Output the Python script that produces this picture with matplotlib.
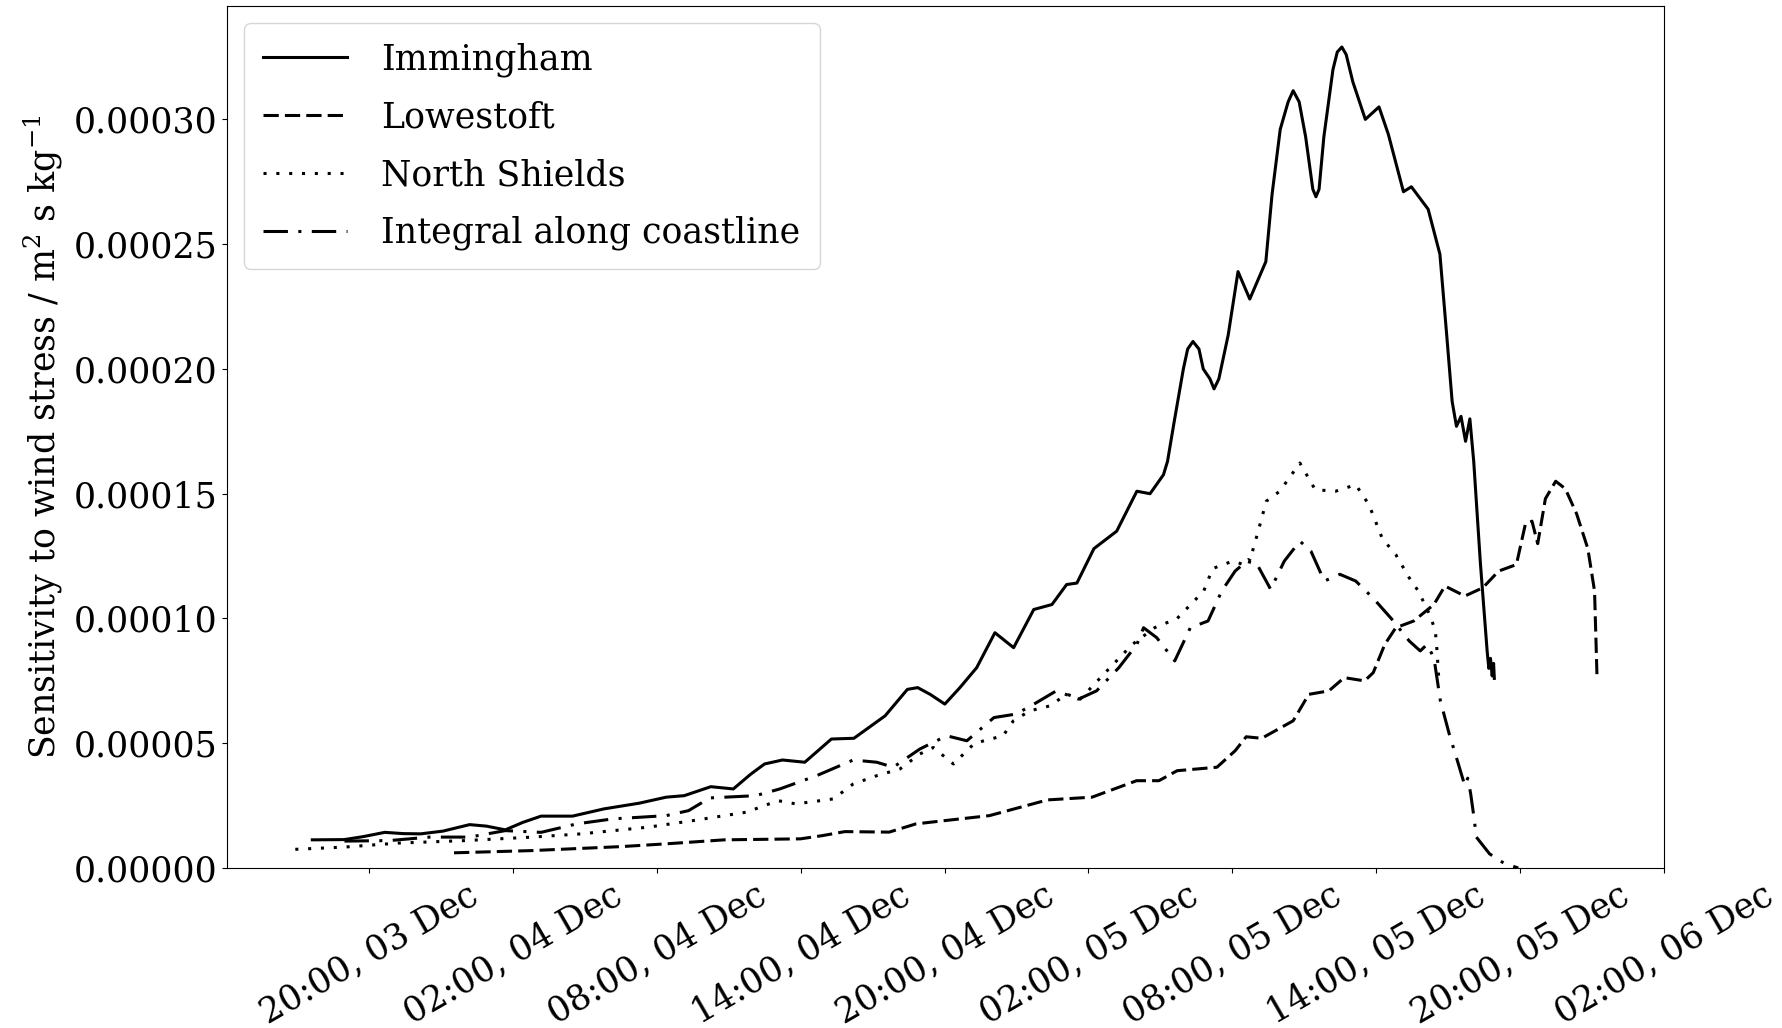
import numpy as np
import pandas as pd
import matplotlib
matplotlib.use('Agg')
import matplotlib.pyplot as plt
import matplotlib.dates as mdates

plt.rcParams['font.family'] = 'DejaVu Serif'
plt.rcParams['mathtext.fontset'] = 'dejavuserif'
plt.rcParams['font.size'] = 25

# hours since 00:00 03 Dec 2013, values in 1e-6 m^2 s kg^-1
imm_h = [17.63, 18.96, 19.76, 20.65, 21.42, 22.15, 23.08, 24.19, 24.89, 25.68,
         26.41, 27.17, 28.48, 29.79, 31.27, 32.39, 33.14, 34.25, 35.19, 35.90,
         36.49, 37.24, 38.17, 39.28, 40.22, 41.52, 42.45, 42.88, 43.40, 44.01,
         44.64, 45.34, 46.10, 46.88, 47.72, 48.48, 49.09, 49.52, 50.23, 51.18,
         52.02, 52.57, 53.13, 53.30, 53.58, 53.96, 54.14, 54.36, 54.61, 54.79,
         55.07, 55.24, 55.44, 55.83, 56.24, 56.73, 57.40, 57.66, 58.00, 58.33,
         58.54, 58.79, 59.06, 59.36, 59.49, 59.62, 59.82, 60.20, 60.38, 60.57,
         60.75, 61.03, 61.55, 62.12, 62.51, 63.14, 63.47, 64.17, 64.66, 64.94,
         65.17, 65.35, 65.54, 65.73, 65.91, 66.07, 66.35, 66.63, 66.70, 66.77,
         66.84, 66.90, 66.93]
imm_v = [11.3, 11.4, 12.6, 14.3, 13.8, 13.7, 14.8, 17.4, 16.8, 15.3,
         18.3, 20.8, 20.8, 23.7, 26.0, 28.4, 29.0, 32.6, 31.7, 37.5,
         41.7, 43.3, 42.4, 51.7, 52.0, 61.0, 71.6, 72.3, 69.6, 65.7,
         72.3, 80.3, 94.3, 88.3, 103.6, 105.6, 113.6, 114.2, 128.0, 135.0,
         151.0, 150.0, 157.6, 163, 179, 200, 208, 211, 208, 200,
         196, 192, 196, 213.6, 239, 228, 243, 270, 296, 307,
         311.5, 307, 293, 272, 269, 272, 293, 320, 327, 329,
         326, 315, 300, 305, 294, 271, 273, 264, 246, 214,
         187, 177, 181, 171, 180, 163, 122, 87, 80, 84,
         77, 82, 76]

low_h = [23.54, 26.80, 30.53, 32.39, 34.81, 37.99, 38.91, 39.84, 41.69, 42.81,
         44.00, 45.87, 48.29, 50.15, 52.01, 52.94, 53.70, 55.36, 56.12, 56.58,
         57.23, 58.54, 59.19, 60.03, 60.67, 61.52, 61.88, 62.36, 62.82, 63.57,
         64.41, 64.87, 65.70, 66.45, 67.11, 67.85, 68.22, 68.50, 68.74, 69.06,
         69.49, 69.89, 70.36, 70.83, 71.11, 71.21]
low_v = [6.1, 7.0, 8.6, 9.7, 11.3, 11.7, 13.0, 14.6, 14.4, 17.7,
         19.0, 21.0, 27.3, 28.4, 35.0, 35.0, 39.0, 40.4, 47.0, 52.6,
         52.0, 59.0, 69.6, 71.0, 76.3, 75.0, 78.3, 89.6, 96.3, 99.0,
         105.6, 113.0, 109.0, 112.3, 119.0, 121.6, 137.6, 139.0, 130.0, 148.0,
         155.0, 152.0, 142.0, 128.0, 111.0, 77.7]

ns_h = [16.92, 18.97, 21.21, 24.01, 26.80, 28.85, 31.65, 33.50, 35.74, 37.05,
        37.80, 39.36, 40.19, 41.17, 42.14, 42.97, 43.53, 44.37, 45.25, 46.44,
        46.87, 47.56, 48.40, 49.09, 49.66, 50.90, 51.83, 52.76, 53.70, 54.81,
        55.18, 56.02, 56.67, 57.04, 57.42, 57.98, 58.82, 59.46, 60.31, 61.15,
        61.70, 62.26, 62.82, 63.38, 63.76, 64.26, 64.47, 64.54, 64.61]
ns_v = [7.5, 8.4, 10.0, 11.0, 12.4, 13.7, 16.4, 19.0, 22.4, 27.0,
        25.7, 27.7, 33.7, 37.0, 39.7, 45.7, 48.3, 41.7, 50.0, 53.0,
        59.0, 63.0, 65.0, 69.7, 67.7, 80.3, 89.6, 96.3, 100.0, 111.0,
        120.0, 123.0, 121.0, 133.6, 147.0, 151.0, 162.3, 151.6, 151.0, 153.6,
        145.6, 132.0, 125.6, 116.3, 111.0, 101.0, 95.0, 87.0, 76.3]

int_h = [18.97, 20.84, 22.52, 24.19, 25.68, 27.17, 28.66, 30.16, 32.39, 33.32,
         34.21, 36.12, 37.13, 38.66, 40.19, 41.17, 41.86, 42.97, 44.09, 44.93,
         46.06, 46.98, 47.73, 48.66, 49.59, 50.34, 51.27, 52.02, 52.30, 52.85,
         53.60, 54.25, 54.99, 55.56, 56.12, 56.67, 57.04, 57.60, 58.17, 58.82,
         59.28, 59.84, 60.49, 61.15, 61.89, 62.63, 63.38, 63.84, 64.12, 64.41,
         64.68, 65.05, 65.43, 65.70, 65.82, 65.94, 66.08, 66.18, 66.73, 67.32,
         67.93]
int_v = [10.8, 11.0, 12.4, 12.4, 15.0, 14.3, 17.7, 19.7, 21.0, 23.0,
         28.1, 29.0, 31.7, 37.0, 43.3, 42.4, 40.4, 47.7, 53.0, 51.0,
         60.3, 61.7, 65.7, 71.0, 67.7, 71.0, 80.3, 89.6, 96.3, 92.3,
         83.0, 96.3, 99.0, 111.0, 119.0, 123.6, 121.6, 111.7, 123.0, 131.0,
         127.0, 115.0, 117.7, 115.0, 108.0, 100.0, 91.0, 87.0, 89.6, 84.3,
         67.0, 53.7, 41.7, 33.0, 36.0, 30.0, 20.4, 12.4, 5.7, 2.0,
         0.0]

t0 = pd.Timestamp('2013-12-03 00:00')


def to_time(hours):
    return t0 + pd.to_timedelta(np.array(hours), unit='h')


def to_val(v):
    return np.array(v) * 1e-6


fig = plt.figure(figsize=(17.83, 10.28), dpi=100)
ax = fig.add_axes([0.1273, 0.1556, 0.806, 0.8386])

lw = 2.2
ax.plot(to_time(imm_h), to_val(imm_v), color='k', lw=lw, linestyle='-', label='Immingham')
ax.plot(to_time(low_h), to_val(low_v), color='k', lw=lw, linestyle=(0, (5.0, 2.0)), label='Lowestoft')
ax.plot(to_time(ns_h), to_val(ns_v), color='k', lw=lw, linestyle=(0, (1.0, 3.2)), label='North Shields')
ax.plot(to_time(int_h), to_val(int_v), color='k', lw=lw, linestyle=(0, (8.0, 3.4, 1.0, 3.4)),
        label='Integral along coastline')

ax.set_xlim(t0 + pd.Timedelta(hours=14.07), t0 + pd.Timedelta(hours=74.01))
ax.set_ylim(bottom=0)
ax.xaxis.set_major_locator(mdates.HourLocator(byhour=[2, 8, 14, 20]))
ax.xaxis.set_major_formatter(mdates.DateFormatter('%H:%M, %d %b'))
ax.yaxis.set_major_formatter(matplotlib.ticker.FormatStrFormatter('%.5f'))
ax.tick_params(axis='x', labelrotation=30)

ax.set_ylabel('Sensitivity to wind stress / m$^2$ s kg$^{-1}$', labelpad=6)
ax.legend(loc='upper left', handlelength=2.4, handletextpad=1.0,
          labelspacing=0.68, borderpad=0.55)

fig.savefig('out.png', dpi=100)
